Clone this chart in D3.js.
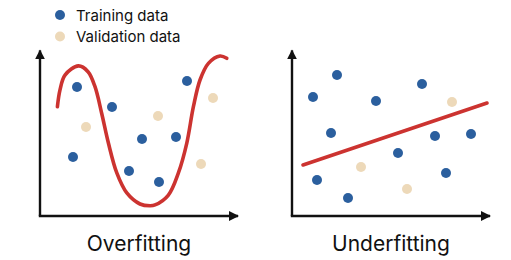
<!DOCTYPE html>
<html>
<head>
<meta charset="utf-8">
<script src="https://cdn.jsdelivr.net/npm/d3@7"></script>
<style>
  html, body { margin: 0; padding: 0; background: #fff; }
  svg { display: block; font-family: Inter, "Noto Sans", sans-serif; }
</style>
</head>
<body>
<div id="chart"></div>
<script>
// data in arbitrary 0-10 units per panel
const overTrain = [[1.85,8.06],[3.6,6.81],[1.65,3.69],[5.1,4.81],[6.8,4.94],[4.45,2.81],[5.95,2.13],[7.35,8.44]];
const overValid = [[2.3,5.56],[5.9,6.25],[8.65,7.38],[8.05,3.25]];
const overCurve = [[0.87,6.83],[1.0,7.88],[1.25,8.81],[1.92,9.38],[2.4,9.02],[2.75,8.08],[3.08,6.44],[3.42,4.56],
  [3.84,2.69],[4.34,1.44],[5.0,0.75],[5.5,0.64],[5.75,0.69],[6.42,1.31],[6.92,2.69],[7.34,4.56],[7.67,6.83],
  [8.0,8.5],[8.42,9.54],[9.0,10.0],[9.34,9.86]];

const underTrain = [[1.05,7.44],[2.25,8.81],[4.2,7.19],[6.5,8.25],[1.95,5.19],[7.15,5.0],[8.95,5.13],[5.3,3.94],[1.25,2.25],[2.8,1.13],[7.7,2.69]];
const underValid = [[8.0,7.13],[3.45,3.06],[5.75,1.69]];
const underFit = [[0.55,3.19],[9.75,7.06]];

const legendLabels = ["Training data", "Validation data"];
const titles = ["Overfitting", "Underfitting"];

const blue = "#2b5f9e", beige = "#edd9b9", red = "#cc3330";

const svg = d3.select("#chart").append("svg").attr("width", 511).attr("height", 260);

svg.append("defs").append("marker")
  .attr("id", "arrow")
  .attr("viewBox", "0 0 10 10")
  .attr("refX", 9).attr("refY", 5)
  .attr("markerWidth", 4.2).attr("markerHeight", 4.2)
  .attr("markerUnits", "strokeWidth")
  .attr("orient", "auto")
  .append("path").attr("d", "M0,0L10,5L0,10z").attr("fill", "#111");

function panel(x0, train, valid, line, curved, title) {
  const x = d3.scaleLinear().domain([0, 10]).range([x0, x0 + 200]);
  const y = d3.scaleLinear().domain([0, 10]).range([216, 56]);
  const g = svg.append("g");

  // axes
  g.append("line").attr("x1", x(0)).attr("y1", y(0)).attr("x2", x(0)).attr("y2", y(10.35))
    .attr("stroke", "#111").attr("stroke-width", 2.4).attr("marker-end", "url(#arrow)");
  g.append("line").attr("x1", x(0) - 1.2).attr("y1", y(0)).attr("x2", x(9.9)).attr("y2", y(0))
    .attr("stroke", "#111").attr("stroke-width", 2.4).attr("marker-end", "url(#arrow)");

  g.append("path").datum(line)
    .attr("d", d3.line().x(d => x(d[0])).y(d => y(d[1])).curve(curved ? d3.curveCatmullRom : d3.curveLinear))
    .attr("fill", "none").attr("stroke", red).attr("stroke-width", 3.6).attr("stroke-linecap", "round");

  g.selectAll(".tr").data(train).enter().append("circle")
    .attr("cx", d => x(d[0])).attr("cy", d => y(d[1])).attr("r", 5).attr("fill", blue);
  g.selectAll(".va").data(valid).enter().append("circle")
    .attr("cx", d => x(d[0])).attr("cy", d => y(d[1])).attr("r", 5).attr("fill", beige);

  g.append("text").attr("x", x(5) - 1).attr("y", 251)
    .attr("text-anchor", "middle").attr("font-size", 21).attr("fill", "#111").text(title);
}

panel(40, overTrain, overValid, overCurve, true, titles[0]);
panel(292, underTrain, underValid, underFit, false, titles[1]);

// legend
const leg = svg.append("g");
[blue, beige].forEach((c, i) => {
  leg.append("circle").attr("cx", 60).attr("cy", 15 + i * 21.5).attr("r", 5).attr("fill", c);
  leg.append("text").attr("x", 76).attr("y", 20.5 + i * 21.5).attr("font-size", 15).attr("fill", "#111").text(legendLabels[i]);
});
</script>
</body>
</html>
